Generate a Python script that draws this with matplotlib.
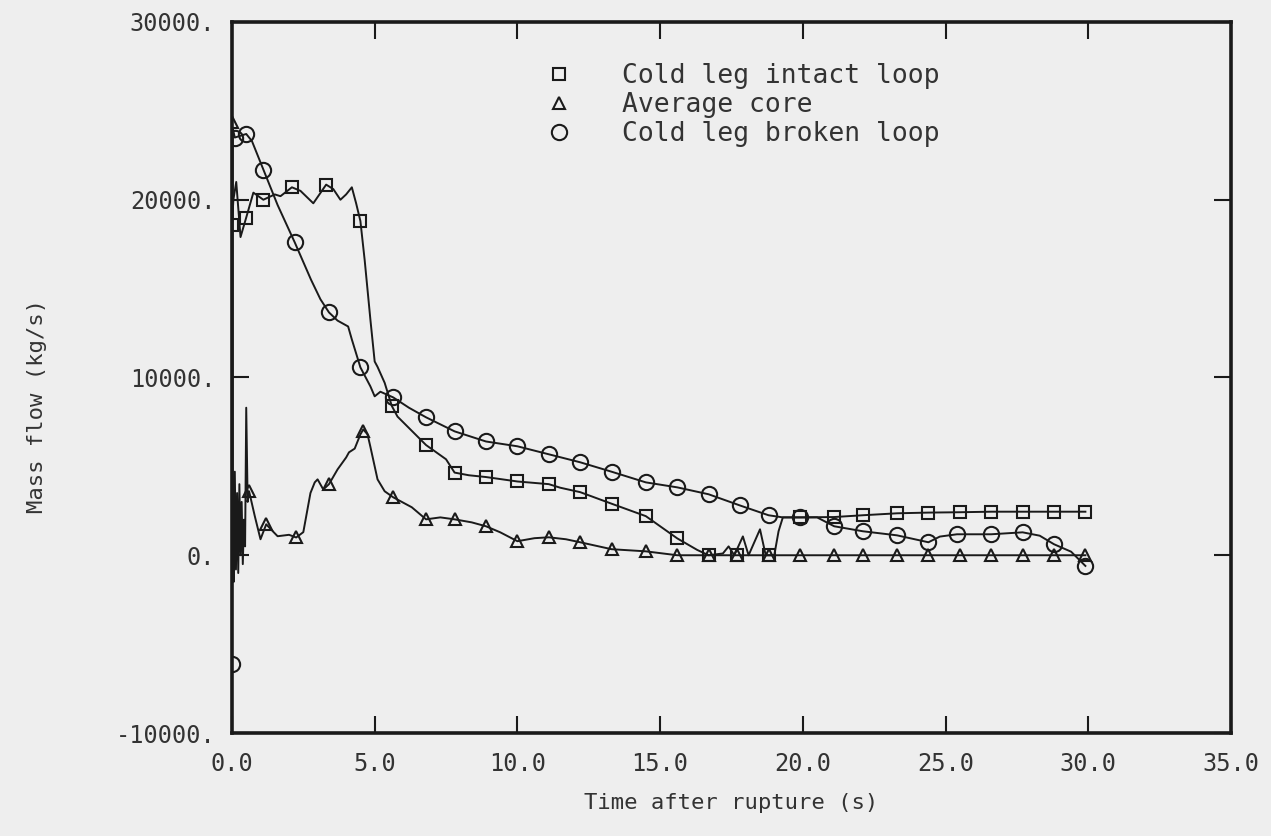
import matplotlib
matplotlib.use("Agg")
import matplotlib.pyplot as plt
from matplotlib.lines import Line2D

# Cold leg intact loop -- curve
intact_t = [0.0, 0.05, 0.15, 0.3, 0.5, 0.75, 1.1, 1.5, 1.7, 2.1, 2.4, 2.85, 3.3, 3.55,
            3.8, 4.0, 4.2, 4.35, 4.5, 4.65, 4.85, 5.0, 5.1, 5.35, 5.6, 5.8, 6.3, 6.8,
            7.5, 7.8, 8.3, 8.9, 10.0, 11.1, 11.5, 12.2, 13.3, 14.5, 15.6, 16.3, 16.7,
            17.2, 17.4, 17.6, 17.9, 18.1, 18.5, 18.7, 19.0, 19.15, 19.3, 19.9, 21.1,
            22.1, 23.3, 24.4, 25.5, 26.6, 27.7, 28.8, 29.9]
intact_v = [18600, 20000, 21000, 17900, 19000, 20400, 20000, 20300, 20200, 20700, 20500,
            19800, 20850, 20600, 20000, 20300, 20700, 19800, 18800, 16600, 13260, 10900,
            10600, 9700, 8400, 7800, 7000, 6200, 5400, 4650, 4500, 4400, 4150, 4000,
            3800, 3550, 2900, 2200, 950, 300, 0, 100, 500, 0, 1060, 0, 1460, 0, 0, 1350,
            2130, 2130, 2150, 2250, 2360, 2400, 2420, 2450, 2450, 2450, 2450]
# Cold leg intact loop -- symbols
intact_mt = [0.0, 0.5, 1.1, 2.1, 3.3, 4.5, 5.6, 6.8, 7.8, 8.9, 10.0, 11.1, 12.2, 13.3,
             14.5, 15.6, 16.7, 17.7, 18.8, 19.9, 21.1, 22.1, 23.3, 24.4, 25.5, 26.6,
             27.7, 28.8, 29.9]
intact_mv = [18600, 19000, 20000, 20700, 20850, 18800, 8400, 6200, 4650, 4400, 4150,
             4000, 3550, 2900, 2200, 950, 0, 0, 0, 2130, 2150, 2250, 2360, 2400, 2420,
             2450, 2450, 2450, 2450]

# Average core -- curve
core_t = [0.0, 0.03, 0.06, 0.1, 0.14, 0.18, 0.22, 0.26, 0.3, 0.34, 0.38, 0.42, 0.46,
          0.5, 0.55, 0.6, 0.8, 1.0, 1.2, 1.4, 1.6, 2.0, 2.25, 2.5, 2.75, 2.9, 3.0, 3.2,
          3.4, 3.7, 4.0, 4.1, 4.3, 4.5, 4.6, 4.75, 4.85, 5.1, 5.35, 5.65, 6.3, 6.8, 7.3,
          7.8, 8.4, 8.9, 9.4, 10.0, 10.6, 11.1, 11.7, 12.2, 13.3, 14.5, 15.6, 16.7, 17.7,
          18.8, 19.9, 21.1, 22.1, 23.3, 24.4, 25.5, 26.6, 27.7, 28.8, 29.9]
core_v = [24400, 2000, -1500, 4700, -800, 3500, -1000, 4000, 0, 3000, -500, 2000, 500,
          8300, 3000, 3600, 2200, 900, 1740, 1400, 1070, 1150, 1000, 1300, 3500, 4100,
          4270, 3700, 4000, 4830, 5500, 5790, 6000, 6800, 7080, 6800, 6100, 4270, 3600,
          3260, 2700, 2020, 2130, 2020, 1850, 1630, 1290, 790, 960, 1010, 900, 730, 340,
          220, 0, 0, 0, 0, 0, 0, 0, 0, 0, 0, 0, 0, 0, 0]
# Average core -- symbols
core_mt = [0.0, 0.6, 1.2, 2.25, 3.4, 4.6, 5.65, 6.8, 7.8, 8.9, 10.0, 11.1, 12.2, 13.3,
           14.5, 15.6, 16.7, 17.7, 18.8, 19.9, 21.1, 22.1, 23.3, 24.4, 25.5, 26.6, 27.7,
           28.8, 29.9]
core_mv = [24400, 3600, 1740, 1000, 4000, 7000, 3260, 2020, 2020, 1630, 790, 1010, 730,
           340, 220, 0, 0, 0, 0, 0, 0, 0, 0, 0, 0, 0, 0, 0, 0]

# Cold leg broken loop -- curve
broken_t = [0.0, 0.03, 0.1, 0.5, 0.7, 1.1, 1.6, 2.2, 2.77, 3.1, 3.4, 3.7, 4.07, 4.2, 4.5,
            4.85, 5.0, 5.2, 5.65, 6.2, 6.8, 7.8, 8.9, 10.0, 11.1, 12.2, 13.3, 14.5, 15.6,
            16.7, 17.8, 18.8, 19.3, 19.9, 20.5, 21.1, 22.1, 23.3, 24.4, 24.8, 25.4, 26.6,
            27.7, 28.3, 28.8, 29.4, 29.9]
broken_v = [-6100, 24000, 23500, 23700, 23300, 21700, 19700, 17600, 15500, 14400, 13660,
            13200, 12870, 12140, 10570, 9500, 8940, 9200, 8880, 8300, 7760, 6970, 6400,
            6130, 5680, 5230, 4700, 4100, 3820, 3430, 2800, 2250, 2130, 2130, 2130, 1630,
            1350, 1120, 730, 1050, 1180, 1180, 1290, 1100, 620, 200, -600]
# Cold leg broken loop -- symbols
broken_mt = [0.0, 0.1, 0.5, 1.1, 2.2, 3.4, 4.5, 5.65, 6.8, 7.8, 8.9, 10.0, 11.1, 12.2,
             13.3, 14.5, 15.6, 16.7, 17.8, 18.8, 19.9, 21.1, 22.1, 23.3, 24.4, 25.4, 26.6,
             27.7, 28.8, 29.9]
broken_mv = [-6100, 23500, 23700, 21700, 17600, 13660, 10570, 8880, 7760, 6970, 6400,
             6130, 5680, 5230, 4700, 4100, 3820, 3430, 2800, 2250, 2130, 1630, 1350, 1120,
             730, 1180, 1180, 1290, 620, -600]

labels = ["Cold leg intact loop", "Average core", "Cold leg broken loop"]
x_ticks = [0.0, 5.0, 10.0, 15.0, 20.0, 25.0, 30.0, 35.0]
y_ticks = [-10000, 0, 10000, 20000, 30000]

bg = "#eeeeee"
ink = "#1a1a1a"
font = "DejaVu Sans Mono"

fig = plt.figure(figsize=(12.71, 8.36), dpi=100, facecolor=bg)
ax = fig.add_axes([0.1825, 0.1232, 0.786, 0.8505], facecolor=bg)

ax.plot(intact_t, intact_v, color=ink, lw=1.4)
ax.plot(core_t, core_v, color=ink, lw=1.4)
ax.plot(broken_t, broken_v, color=ink, lw=1.4)

ax.plot(intact_mt, intact_mv, ls="none", marker="s", ms=8, mfc="none", mec=ink, mew=1.5)
ax.plot(core_mt, core_mv, ls="none", marker="^", ms=8, mfc="none", mec=ink, mew=1.5)
ax.plot(broken_mt, broken_mv, ls="none", marker="o", ms=11, mfc="none", mec=ink, mew=1.5)

ax.set_xlim(0, 35)
ax.set_ylim(-10000, 30000)
ax.set_xticks(x_ticks)
ax.set_xticklabels([f"{v:.1f}" for v in x_ticks])
ax.set_yticks(y_ticks)
ax.set_yticklabels([f"{v}." for v in y_ticks])
ax.tick_params(direction="in", length=12, width=1.5, color=ink,
               top=True, right=True, labelsize=17, labelcolor="#333333")
ax.tick_params(axis="x", pad=14)
ax.tick_params(axis="y", pad=12)
for lab in ax.get_xticklabels() + ax.get_yticklabels():
    lab.set_family(font)
for sp in ax.spines.values():
    sp.set_linewidth(2.6)
    sp.set_color(ink)

ax.set_xlabel("Time after rupture (s)", fontsize=16, family=font, color="#333333", labelpad=12)
ax.set_ylabel("Mass flow (kg/s)", fontsize=16, family=font, color="#333333")
ax.yaxis.set_label_coords(-0.185, 0.46)

handles = [Line2D([], [], ls="none", marker="s", ms=8, mfc="none", mec=ink, mew=1.5),
           Line2D([], [], ls="none", marker="^", ms=8, mfc="none", mec=ink, mew=1.5),
           Line2D([], [], ls="none", marker="o", ms=11, mfc="none", mec=ink, mew=1.5)]
leg = ax.legend(handles, labels, loc="upper left", bbox_to_anchor=(0.29, 0.976),
                frameon=False, handlelength=1.0, handletextpad=1.9, labelspacing=0.12,
                prop={"family": font, "size": 19})
for t in leg.get_texts():
    t.set_color("#333333")

fig.savefig("out.png", dpi=100, facecolor=bg)
